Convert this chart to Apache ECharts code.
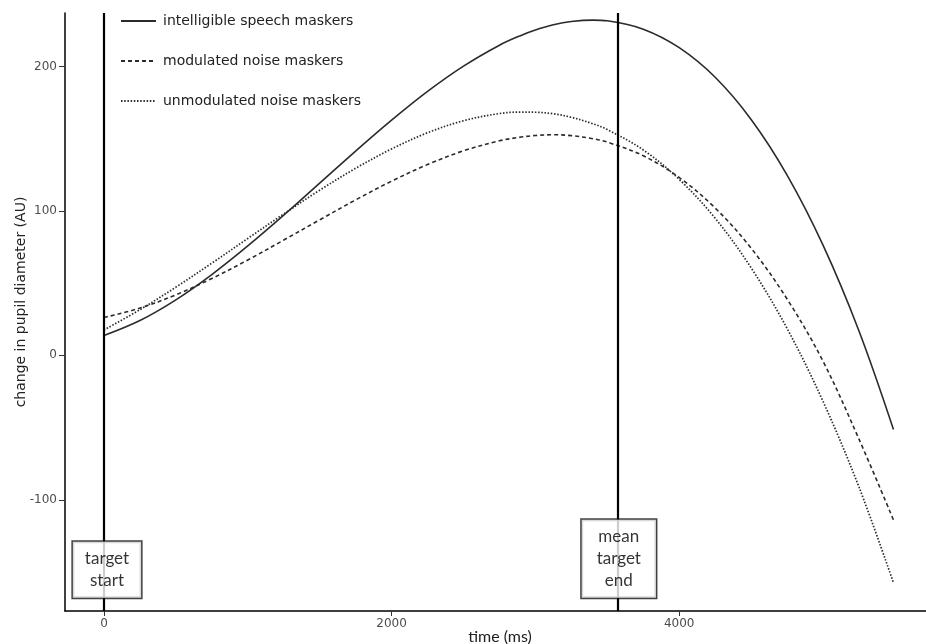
<!DOCTYPE html>
<html>
<head>
<meta charset="utf-8">
<script src="https://cdn.jsdelivr.net/npm/echarts@6/dist/echarts.min.js"></script>
<style>
html,body{margin:0;padding:0;background:#fff;}
#chart{width:926px;height:644px;}
</style>
</head>
<body>
<div id="chart"></div>
<script>
// time points (ms)
var times = [0,250,500,750,1000,1250,1500,1750,2000,2250,2500,2750,2900,3000,3125,3250,3400,3500,3750,4000,4250,4500,4750,5000,5250,5490];
// change in pupil diameter (AU)
var speech = [13.7,24.1,38.4,55.9,75.7,97.0,119.2,141.4,162.8,182.7,200.2,214.7,221.5,225.2,228.8,231.1,232.1,231.6,225.8,213.0,192.5,163.3,124.8,76.3,16.9,-51.3];
var modulated = [26.2,32.7,41.9,53.2,66.0,79.8,93.8,107.6,120.6,132.1,141.6,148.5,151.1,152.2,152.7,152.1,150.0,147.6,138.2,123.1,102.0,74.2,39.0,-4.1,-58.0,-114.0];
var unmodulated = [17.6,31.6,47.2,63.8,80.9,97.9,114.3,129.5,142.9,154.1,162.4,167.4,168.4,168.3,167.2,164.8,160.3,156.3,142.2,121.8,94.9,60.6,18.6,-31.9,-91.2,-157.5];
var seriesNames = ['intelligible speech maskers','modulated noise maskers','unmodulated noise maskers'];
var xTicks = [0,2000,4000];
var yTicks = [-100,0,100,200];
var eventTimes = [0,3576];
var boxLabels = ['target\nstart','mean\ntarget\nend'];
var boxPos = [[21,-148.4],[3580,-140.8]];

function pairs(vals){ return times.map(function(t,i){ return [t, vals[i]]; }); }

var chart = echarts.init(document.getElementById('chart'), null, {renderer:'canvas'});
var lineColor = '#2b2b2b';
var option = {
  animation:false,
  backgroundColor:'#fff',
  grid:{left:65,right:0,top:13,bottom:33,containLabel:false},
  legend:{
    orient:'vertical', left:120, top:14, padding:0, itemWidth:35, itemHeight:14, itemGap:26,
    itemStyle:{opacity:0},
    textStyle:{fontFamily:'DejaVu Sans',fontSize:14,color:'#222',padding:[0,0,0,2]},
    data: seriesNames
  },
  xAxis:{
    type:'value', min:-271, max:5716,
    axisLine:{show:true,onZero:false,lineStyle:{color:'#000',width:1.5}},
    axisTick:{show:true,length:5,customValues:xTicks,lineStyle:{color:'#333',width:1}},
    axisLabel:{customValues:xTicks,margin:7,fontFamily:'DejaVu Sans',fontSize:12,color:'#4d4d4d',
      formatter:function(v){return String(v);}},
    splitLine:{show:false}
  },
  yAxis:{
    type:'value', min:-177, max:237,
    axisLine:{show:true,onZero:false,lineStyle:{color:'#000',width:1.5}},
    axisTick:{show:true,length:6,customValues:yTicks,lineStyle:{color:'#333',width:1}},
    axisLabel:{customValues:yTicks,margin:8,fontFamily:'DejaVu Sans',fontSize:12,color:'#4d4d4d',
      formatter:function(v){return String(v);}},
    splitLine:{show:false}
  },
  graphic:[
    {type:'text',x:500,y:637,style:{text:'time (ms)',fontFamily:'Lato',fontSize:16,fill:'#222',textAlign:'center',textVerticalAlign:'middle'}},
    {type:'text',x:21,y:302,rotation:Math.PI/2,style:{text:'change in pupil diameter (AU)',fontFamily:'DejaVu Sans',fontSize:14,fill:'#222',textAlign:'center',textVerticalAlign:'middle'}}
  ],
  series:[
    {
      name:seriesNames[0], type:'line', data:pairs(speech), smooth:0.35, symbol:'none',
      lineStyle:{color:lineColor,width:1.6,type:'solid'}, itemStyle:{color:lineColor}, z:3,
      markLine:{
        silent:true, symbol:'none', label:{show:false},
        lineStyle:{color:'#000',width:2.2,type:'solid'},
        data: eventTimes.map(function(t){ return {xAxis:t}; })
      }
    },
    {
      name:seriesNames[1], type:'line', data:pairs(modulated), smooth:0.35, symbol:'none',
      lineStyle:{color:lineColor,width:1.6,type:[4,3]}, itemStyle:{color:lineColor}, z:3
    },
    {
      name:seriesNames[2], type:'line', data:pairs(unmodulated), smooth:0.35, symbol:'none',
      lineStyle:{color:lineColor,width:1.7,type:[1.5,1.7]}, itemStyle:{color:lineColor}, z:3
    },
    {
      type:'scatter', symbolSize:0, z:10, silent:true,
      data: boxPos.map(function(p,i){ return {value:p, label:{formatter:boxLabels[i], padding: i===0 ? [6,12,6,12] : [6,15,6,15]}}; }),
      label:{
        show:true, position:'inside', fontFamily:'Lato', fontSize:17, color:'#000',
        lineHeight:22, align:'center', verticalAlign:'middle',
        backgroundColor:'#fff', borderColor:'#111', borderWidth:1.5
      }
    }
  ]
};
chart.setOption(option);
</script>
</body>
</html>
